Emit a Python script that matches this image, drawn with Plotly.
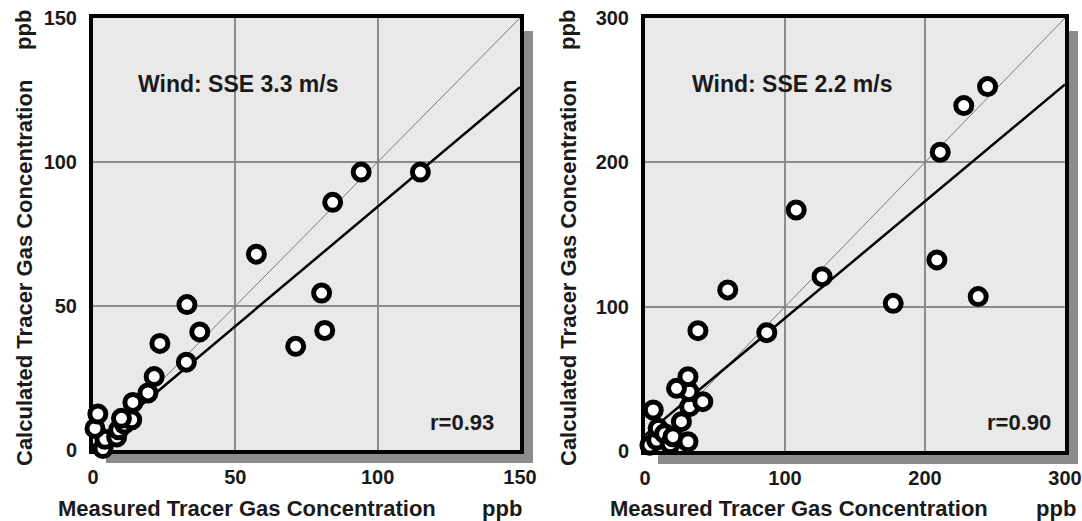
import plotly.graph_objects as go

# ---------------- data ----------------
left_x = [0.2, 1.3, 3.5, 4.2, 0.7, 1.7, 8.3, 9.0, 11.0, 13.6, 10.0, 14.0, 19.3, 21.5,
          23.5, 32.8, 37.5, 33.0, 57.4, 71.2, 81.4, 80.3, 84.2, 94.2, 115.0]
left_y = [-2.0, -0.5, 0.5, 3.7, 7.5, 12.5, 4.5, 7.0, 9.0, 10.5, 11.0, 16.5, 19.8, 25.5,
          37.0, 30.5, 41.0, 50.5, 68.0, 36.0, 41.5, 54.5, 86.0, 96.5, 96.5]

right_x = [4.8, 3.5, 8.3, 9.4, 5.9, 14.0, 18.0, 20.0, 26.0, 30.7, 31.9, 31.4, 22.5,
           30.7, 41.3, 37.8, 59.1, 87.0, 108.0, 126.5, 177.3, 208.5, 210.9, 227.7,
           238.0, 244.7]
right_y = [-0.5, 4.0, 7.6, 15.7, 28.4, 12.0, 5.0, 9.9, 20.3, 6.4, 30.7, 41.1, 43.4,
           51.5, 34.2, 83.4, 111.6, 82.0, 167.0, 120.8, 102.3, 132.4, 207.0, 239.3,
           107.0, 252.5]

left_range = [0, 150]
right_range = [0, 300]
left_ticks = [0, 50, 100, 150]
right_ticks = [0, 100, 200, 300]

# regression lines (intercept, slope)
left_fit = (1.5, 0.83)
right_fit = (11.0, 0.81)

left_wind = "Wind: SSE 3.3 m/s"
right_wind = "Wind: SSE 2.2 m/s"
left_r = "r=0.93"
right_r = "r=0.90"

x_title = "Measured Tracer Gas Concentration"
y_title = "Calculated Tracer Gas Concentration"
unit = "ppb"

# ---------------- layout geometry ----------------
W, H = 1082, 521
FONT = "Liberation Sans, Arial, sans-serif"
TXT = "#1a1a1a"


def px_x(p):
    return p / W


def px_y(p):
    return 1 - p / H


panels = [
    dict(xd=(93, 520), yd=(18, 450), rng=left_range, ticks=left_ticks,
         x=left_x, y=left_y, fit=left_fit, wind=left_wind, r=left_r,
         xa="x", ya="y", wind_x=136, r_x=496, ytitle_x=24, ppbx_right=524),
    dict(xd=(645, 1065), yd=(18, 451), rng=right_range, ticks=right_ticks,
         x=right_x, y=right_y, fit=right_fit, wind=right_wind, r=right_r,
         xa="x2", ya="y2", wind_x=690, r_x=1053, ytitle_x=568, ppbx_right=1078),
]

fig = go.Figure()
shapes = []
annotations = []
SH = 13  # shadow offset

for i, p in enumerate(panels):
    x0, x1 = p["xd"]
    y0, y1 = p["yd"]
    # shadow then background
    shapes.append(dict(type="rect", xref="paper", yref="paper", layer="below",
                       x0=px_x(x0 + SH), x1=px_x(x1 + SH), y0=px_y(y1 + SH), y1=px_y(y0 + SH),
                       fillcolor="#8c8c8c", line=dict(width=0)))
    shapes.append(dict(type="rect", xref="paper", yref="paper", layer="below",
                       x0=px_x(x0), x1=px_x(x1), y0=px_y(y1), y1=px_y(y0),
                       fillcolor="#e9e9e9", line=dict(width=0)))

    lo, hi = p["rng"]
    b0, b1 = p["fit"]
    # 1:1 line
    fig.add_trace(go.Scatter(x=[lo, hi], y=[lo, hi], mode="lines",
                             line=dict(color="#7a7a7a", width=1),
                             xaxis=p["xa"], yaxis=p["ya"], showlegend=False,
                             hoverinfo="skip"))
    # regression line
    fig.add_trace(go.Scatter(x=[lo, hi], y=[b0 + b1 * lo, b0 + b1 * hi], mode="lines",
                             line=dict(color="black", width=2.5),
                             xaxis=p["xa"], yaxis=p["ya"], showlegend=False,
                             hoverinfo="skip"))
    # points
    fig.add_trace(go.Scatter(x=p["x"], y=p["y"], mode="markers", cliponaxis=False,
                             marker=dict(size=16, color="white",
                                         line=dict(color="black", width=5)),
                             xaxis=p["xa"], yaxis=p["ya"], showlegend=False))

    # texts
    annotations.append(dict(xref="paper", yref="paper", x=px_x(p["wind_x"]), y=px_y(84),
                            xanchor="left", yanchor="middle", showarrow=False,
                            text=p["wind"],
                            font=dict(family=FONT, size=23, color=TXT, weight="bold")))
    annotations.append(dict(xref="paper", yref="paper", x=px_x(p["r_x"]), y=px_y(422),
                            xanchor="right", yanchor="middle", showarrow=False,
                            text=p["r"],
                            font=dict(family=FONT, size=22, color=TXT, weight="bold")))
    # x title
    annotations.append(dict(xref="paper", yref="paper", x=px_x(x0 - 37), y=px_y(508),
                            xanchor="left", yanchor="middle", showarrow=False,
                            text=x_title,
                            font=dict(family=FONT, size=22, color=TXT, weight="bold")))
    annotations.append(dict(xref="paper", yref="paper", x=px_x(p["ppbx_right"]), y=px_y(508),
                            xanchor="right", yanchor="middle", showarrow=False,
                            text=unit,
                            font=dict(family=FONT, size=22, color=TXT, weight="bold")))
    # y title (rotated)
    annotations.append(dict(xref="paper", yref="paper", x=px_x(p["ytitle_x"]), y=px_y(468),
                            xanchor="center", yanchor="bottom", showarrow=False,
                            text=y_title, textangle=-90,
                            font=dict(family=FONT, size=22, color=TXT, weight="bold")))
    annotations.append(dict(xref="paper", yref="paper", x=px_x(p["ytitle_x"]), y=px_y(8),
                            xanchor="center", yanchor="top", showarrow=False,
                            text=unit, textangle=-90,
                            font=dict(family=FONT, size=22, color=TXT, weight="bold")))

axis_common = dict(showline=True, linecolor="black", linewidth=4, mirror=True,
                   showgrid=True, gridcolor="#8c8c8c", gridwidth=2, zeroline=False,
                   ticks="", layer="below traces", automargin=False,
                   tickfont=dict(family=FONT, size=20, color=TXT, weight="bold"))

fig.update_layout(
    width=W, height=H,
    margin=dict(l=0, r=0, t=0, b=0, autoexpand=False),
    paper_bgcolor="white",
    plot_bgcolor="rgba(0,0,0,0)",
    showlegend=False,
    shapes=shapes,
    annotations=annotations,
    xaxis=dict(domain=[px_x(93), px_x(520)], range=left_range, tickvals=left_ticks,
               anchor="y", ticklabelstandoff=6, **axis_common),
    yaxis=dict(domain=[px_y(450), px_y(18)], range=left_range, tickvals=left_ticks,
               anchor="x", ticklabelstandoff=8, **axis_common),
    xaxis2=dict(domain=[px_x(645), px_x(1065)], range=right_range, tickvals=right_ticks,
                anchor="y2", ticklabelstandoff=6, **axis_common),
    yaxis2=dict(domain=[px_y(451), px_y(18)], range=right_range, tickvals=right_ticks,
                anchor="x2", ticklabelstandoff=8, **axis_common),
)

fig.write_html(
    "out.html",
    config={"displayModeBar": False},
    post_script="document.body.style.margin='0';document.body.style.overflow='hidden';",
)
